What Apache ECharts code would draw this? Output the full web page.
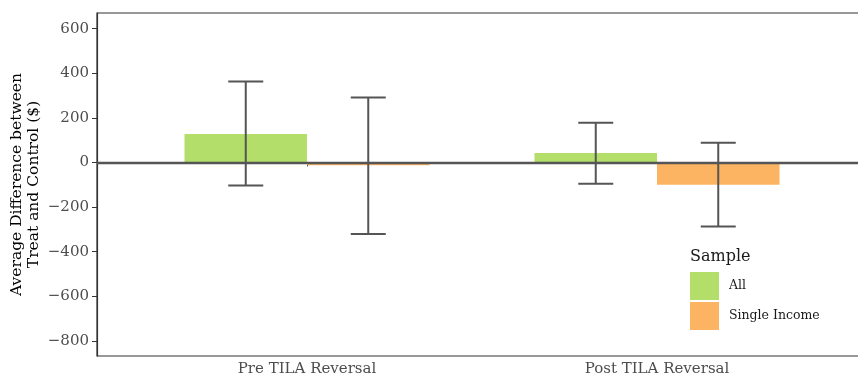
<!DOCTYPE html>
<html>
<head>
<meta charset="utf-8">
<script src="https://cdn.jsdelivr.net/npm/echarts@6/dist/echarts.min.js"></script>
<style>html,body{margin:0;padding:0;background:#fff}#c{width:858px;height:381px}</style>
</head>
<body>
<div id="c"></div>
<script>
const categories = ['Pre TILA Reversal', 'Post TILA Reversal'];
const seriesNames = ['All', 'Single Income'];
const allValues = [127, 42];
const allLower = [-103, -96];
const allUpper = [363, 178];
const singleValues = [-13, -100];
const singleLower = [-321, -287];
const singleUpper = [291, 88];
const yTicks = [-800, -600, -400, -200, 0, 200, 400, 600];

const colors = ['#b3de69', '#fdb462'];
const serif = '"DejaVu Serif", serif';
const barW = 0.35;
const offsets = [-barW / 2, barW / 2];

function barData(vals) { return vals.map((v, i) => [i + 1, v]); }
function errData(lo, hi) { return lo.map((l, i) => [i + 1, l, hi[i]]); }

function barSeries(k, vals) {
  return {
    name: seriesNames[k], type: 'custom', z: 2,
    itemStyle: { color: colors[k] },
    encode: { x: 0, y: 1 },
    data: barData(vals),
    renderItem: function (params, api) {
      const x = api.value(0) + offsets[k];
      const p0 = api.coord([x - barW / 2, 0]);
      const p1 = api.coord([x + barW / 2, api.value(1)]);
      return {
        type: 'rect',
        shape: { x: p0[0], y: Math.min(p0[1], p1[1]), width: p1[0] - p0[0], height: Math.abs(p1[1] - p0[1]) },
        style: { fill: colors[k] }
      };
    }
  };
}
function errSeries(k, lo, hi) {
  return {
    type: 'custom', z: 4, silent: true,
    encode: { x: 0, y: [1, 2] },
    data: errData(lo, hi),
    renderItem: function (params, api) {
      const x = api.value(0) + offsets[k];
      const w = 0.05;
      const a = api.coord([x, api.value(1)]);
      const b = api.coord([x, api.value(2)]);
      const l = api.coord([x - w, 0])[0];
      const r = api.coord([x + w, 0])[0];
      const st = { stroke: '#555555', lineWidth: 2, fill: null };
      return {
        type: 'group', children: [
          { type: 'line', shape: { x1: a[0], y1: a[1], x2: b[0], y2: b[1] }, style: st },
          { type: 'line', shape: { x1: l, y1: a[1], x2: r, y2: a[1] }, style: st },
          { type: 'line', shape: { x1: l, y1: b[1], x2: r, y2: b[1] }, style: st }
        ]
      };
    }
  };
}

const chart = echarts.init(document.getElementById('c'), null, { renderer: 'canvas' });
chart.setOption({
  animation: false,
  backgroundColor: '#ffffff',
  grid: { left: 97, top: 13, width: 770, height: 343, outerBoundsMode: 'none', containLabel: false,
          show: true, borderColor: '#333333', borderWidth: 1.2, backgroundColor: 'transparent' },
  title: {
    text: 'Sample', left: 685, top: 244,
    textStyle: { fontFamily: serif, fontSize: 16, fontWeight: 'normal', color: '#1a1a1a' }
  },
  legend: {
    orient: 'vertical', left: 690, top: 272, padding: 0,
    itemWidth: 29, itemHeight: 28, itemGap: 2, icon: 'rect',
    data: seriesNames,
    textStyle: { fontFamily: serif, fontSize: 12.5, color: '#1a1a1a', padding: [0, 0, 0, 5] }
  },
  xAxis: {
    type: 'value', min: 0.4, max: 2.6,
    splitLine: { show: false },
    axisLine: { show: true, lineStyle: { color: '#333333', width: 1.2 } },
    axisTick: { show: true, length: 4, customValues: [1, 2], lineStyle: { color: '#333333' } },
    axisLabel: {
      customValues: [1, 2], margin: 6,
      formatter: v => categories[Math.round(v) - 1] || '',
      fontFamily: serif, fontSize: 15, color: '#4d4d4d'
    }
  },
  yAxis: {
    type: 'value', min: -868, max: 670,
    splitLine: { show: false },
    name: 'Average Difference between\nTreat and Control ($)',
    nameLocation: 'middle', nameGap: 55, nameRotate: 90, nameMoveOverlap: false,
    nameTextStyle: { fontFamily: serif, fontSize: 15.5, color: '#000000', lineHeight: 17 },
    axisLine: { show: true, lineStyle: { color: '#333333', width: 1.2 } },
    axisTick: { show: true, length: 5, customValues: yTicks, lineStyle: { color: '#333333' } },
    axisLabel: {
      customValues: yTicks, margin: 8,
      formatter: v => (v < 0 ? '\u2212' + Math.abs(v) : String(v)),
      fontFamily: serif, fontSize: 15, color: '#4d4d4d'
    }
  },
  series: [
    barSeries(0, allValues),
    barSeries(1, singleValues),
    {
      type: 'custom', z: 3, silent: true, data: [[1, 0]], encode: { x: 0, y: 1 },
      renderItem: function (params, api) { return null; },
      markLine: {
        silent: true, symbol: 'none', label: { show: false },
        lineStyle: { color: '#555555', width: 2.4, type: 'solid' },
        data: [{ yAxis: 0 }]
      }
    },
    errSeries(0, allLower, allUpper),
    errSeries(1, singleLower, singleUpper)
  ]
});
</script>
</body>
</html>
